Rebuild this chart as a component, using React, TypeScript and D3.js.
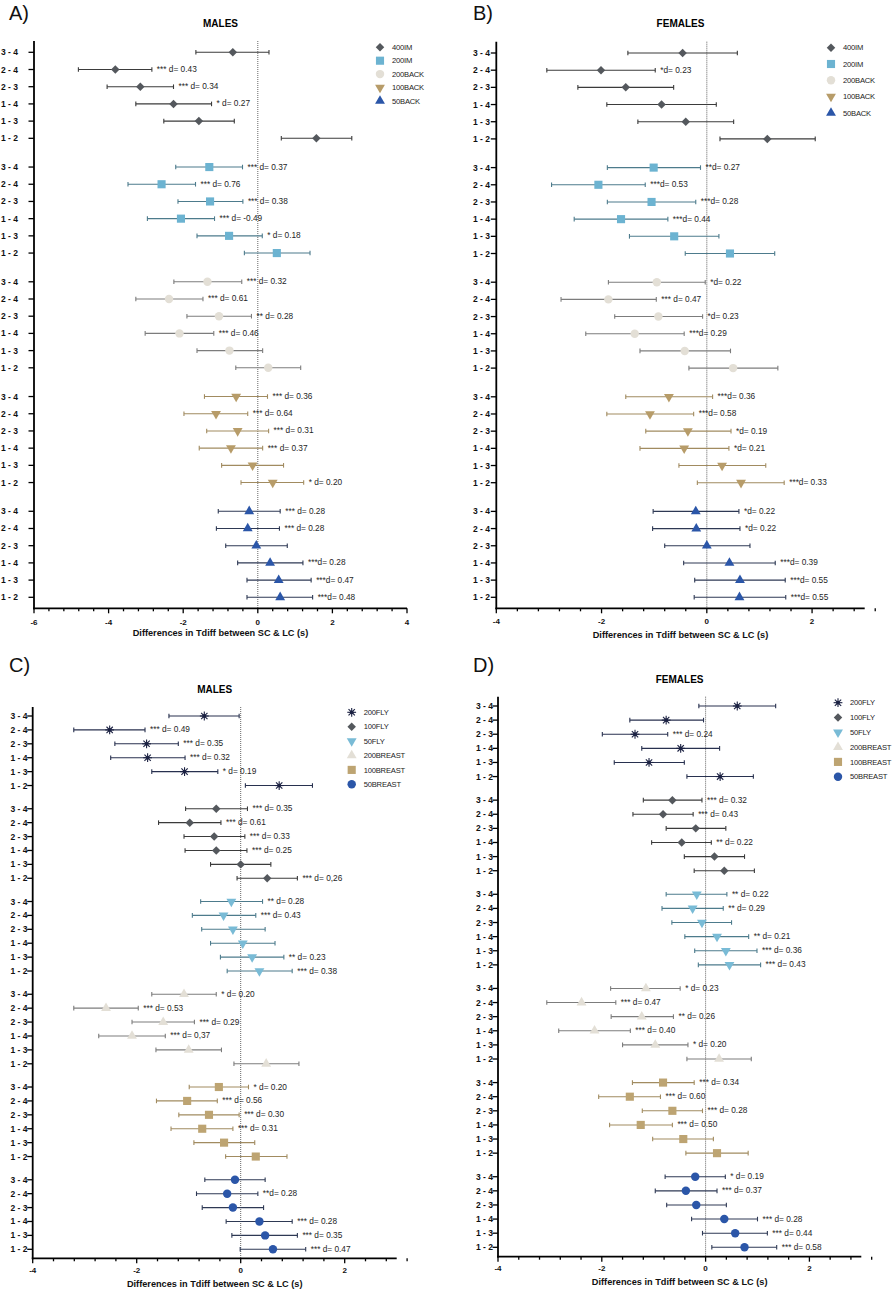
import React from "react";
import * as d3 from "d3";

// [mean difference, lower CI, upper CI, significance / effect size label]
type Row = [number, number, number, string];
type MarkerKind = "diamond" | "square" | "circle" | "triDown" | "triUp" | "asterisk";

const pairs = ["3 - 4", "2 - 4", "2 - 3", "1 - 4", "1 - 3", "1 - 2"];
const xTitle = "Differences in Tdiff between SC & LC (s)";

// A) males, IM + backstroke
const mIM400: Row[] = [
  [-0.67, -1.66, 0.3, ""],
  [-3.82, -4.81, -2.84, "*** d= 0.43"],
  [-3.15, -4.04, -2.26, "*** d= 0.34"],
  [-2.26, -3.27, -1.24, "* d= 0.27"],
  [-1.58, -2.52, -0.63, ""],
  [1.57, 0.63, 2.52, ""],
];
const mIM200: Row[] = [
  [-1.3, -2.2, -0.41, "*** d= 0.37"],
  [-2.58, -3.48, -1.67, "*** d= 0.76"],
  [-1.28, -2.14, -0.4, "*** d= 0.38"],
  [-2.06, -2.96, -1.16, "*** d= -0.49"],
  [-0.77, -1.63, 0.12, "* d= 0.18"],
  [0.51, -0.36, 1.4, ""],
];
const mBACK200: Row[] = [
  [-1.35, -2.25, -0.43, "*** d= 0.32"],
  [-2.38, -3.27, -1.47, "*** d= 0.61"],
  [-1.04, -1.9, -0.17, "** d= 0.28"],
  [-2.1, -3.02, -1.18, "*** d= 0.46"],
  [-0.76, -1.63, 0.13, ""],
  [0.28, -0.59, 1.15, ""],
];
const mBACK100: Row[] = [
  [-0.58, -1.43, 0.26, "*** d= 0.36"],
  [-1.12, -1.98, -0.27, "*** d= 0.64"],
  [-0.54, -1.37, 0.29, "*** d= 0.31"],
  [-0.72, -1.57, 0.13, "*** d= 0.37"],
  [-0.14, -0.97, 0.69, ""],
  [0.4, -0.45, 1.23, "* d= 0.20"],
];
const mBACK50: Row[] = [
  [-0.23, -1.06, 0.6, "*** d= 0.28"],
  [-0.27, -1.11, 0.58, "*** d= 0.28"],
  [-0.04, -0.86, 0.79, ""],
  [0.33, -0.54, 1.21, "***d= 0.28"],
  [0.56, -0.29, 1.43, "***d= 0.47"],
  [0.6, -0.29, 1.47, "***d= 0.48"],
];

// B) females, IM + backstroke
const fIM400: Row[] = [
  [-0.46, -1.5, 0.58, ""],
  [-2.01, -3.04, -0.98, "*d= 0.23"],
  [-1.54, -2.45, -0.63, ""],
  [-0.86, -1.9, 0.18, ""],
  [-0.4, -1.31, 0.51, ""],
  [1.15, 0.25, 2.06, ""],
];
const fIM200: Row[] = [
  [-1.01, -1.89, -0.12, "**d= 0.27"],
  [-2.06, -2.95, -1.17, "***d= 0.53"],
  [-1.05, -1.89, -0.21, "***d= 0.28"],
  [-1.63, -2.52, -0.74, "***d= 0.44"],
  [-0.62, -1.47, 0.23, ""],
  [0.44, -0.41, 1.29, ""],
];
const fBACK200: Row[] = [
  [-0.95, -1.87, -0.03, "*d= 0.22"],
  [-1.87, -2.77, -0.96, "*** d= 0.47"],
  [-0.92, -1.75, -0.08, "*d= 0.23"],
  [-1.37, -2.3, -0.43, "***d= 0.29"],
  [-0.42, -1.27, 0.45, ""],
  [0.5, -0.34, 1.35, ""],
];
const fBACK100: Row[] = [
  [-0.72, -1.54, 0.11, "***d= 0.36"],
  [-1.08, -1.9, -0.25, "***d= 0.58"],
  [-0.36, -1.16, 0.46, "*d= 0.19"],
  [-0.43, -1.27, 0.42, "*d= 0.21"],
  [0.29, -0.53, 1.12, ""],
  [0.65, -0.18, 1.47, "***d= 0.33"],
];
const fBACK50: Row[] = [
  [-0.21, -1.02, 0.61, "*d= 0.22"],
  [-0.2, -1.03, 0.63, "*d= 0.22"],
  [0.0, -0.8, 0.82, ""],
  [0.43, -0.44, 1.3, "***d= 0.39"],
  [0.63, -0.23, 1.49, "***d= 0.55"],
  [0.62, -0.24, 1.5, "***d= 0.55"],
];

// C) males, butterfly + breaststroke
const mFLY200: Row[] = [
  [-0.7, -1.38, -0.03, ""],
  [-2.52, -3.21, -1.84, "*** d= 0.49"],
  [-1.81, -2.42, -1.2, "*** d= 0.35"],
  [-1.79, -2.5, -1.07, "*** d= 0.32"],
  [-1.08, -1.71, -0.44, "* d= 0.19"],
  [0.74, 0.09, 1.38, ""],
];
const mFLY100: Row[] = [
  [-0.47, -1.06, 0.13, "*** d= 0.35"],
  [-0.98, -1.58, -0.38, "*** d= 0.61"],
  [-0.51, -1.09, 0.08, "*** d= 0.33"],
  [-0.47, -1.07, 0.12, "*** d= 0.25"],
  [0.0, -0.58, 0.58, ""],
  [0.51, -0.07, 1.09, "*** d= 0,26"],
];
const mFLY50: Row[] = [
  [-0.18, -0.77, 0.42, "** d= 0.28"],
  [-0.33, -0.93, 0.29, "*** d= 0.43"],
  [-0.15, -0.75, 0.47, ""],
  [0.04, -0.58, 0.66, ""],
  [0.22, -0.39, 0.83, "** d= 0.23"],
  [0.36, -0.26, 0.99, "*** d= 0.38"],
];
const mBREAST200: Row[] = [
  [-1.09, -1.71, -0.47, "* d= 0.20"],
  [-2.59, -3.21, -1.97, "*** d= 0.53"],
  [-1.49, -2.09, -0.89, "*** d= 0.29"],
  [-2.09, -2.73, -1.45, "*** d= 0,37"],
  [-1.0, -1.63, -0.37, ""],
  [0.49, -0.13, 1.12, ""],
];
const mBREAST100: Row[] = [
  [-0.42, -0.99, 0.15, "* d= 0.20"],
  [-1.03, -1.62, -0.45, "*** d= 0.56"],
  [-0.61, -1.19, -0.03, "*** d= 0.30"],
  [-0.74, -1.34, -0.15, "*** d= 0.31"],
  [-0.32, -0.9, 0.27, ""],
  [0.29, -0.29, 0.89, ""],
];
const mBREAST50: Row[] = [
  [-0.11, -0.69, 0.47, ""],
  [-0.26, -0.85, 0.33, "**d= 0.28"],
  [-0.15, -0.74, 0.44, ""],
  [0.36, -0.28, 0.99, "*** d= 0.28"],
  [0.47, -0.17, 1.09, "*** d= 0.35"],
  [0.62, -0.01, 1.25, "*** d= 0.47"],
];

// D) females, butterfly + breaststroke
const fFLY200: Row[] = [
  [0.61, -0.13, 1.35, ""],
  [-0.76, -1.46, -0.04, ""],
  [-1.36, -1.99, -0.73, "*** d= 0.24"],
  [-0.48, -1.23, 0.27, ""],
  [-1.09, -1.76, -0.41, ""],
  [0.28, -0.36, 0.92, ""],
];
const fFLY100: Row[] = [
  [-0.64, -1.2, -0.07, "*** d= 0.32"],
  [-0.82, -1.4, -0.24, "*** d= 0.43"],
  [-0.19, -0.76, 0.39, ""],
  [-0.46, -1.04, 0.11, "** d= 0.22"],
  [0.17, -0.41, 0.75, ""],
  [0.36, -0.22, 0.94, ""],
];
const fFLY50: Row[] = [
  [-0.17, -0.76, 0.41, "** d= 0.22"],
  [-0.25, -0.84, 0.34, "** d= 0.29"],
  [-0.07, -0.65, 0.5, ""],
  [0.22, -0.4, 0.83, "** d= 0.21"],
  [0.39, -0.21, 0.99, "*** d= 0.36"],
  [0.46, -0.14, 1.06, "*** d= 0.43"],
];
const fBREAST200: Row[] = [
  [-1.15, -1.83, -0.49, "* d= 0.23"],
  [-2.39, -3.06, -1.73, "*** d= 0.47"],
  [-1.23, -1.82, -0.62, "** d= 0.26"],
  [-2.14, -2.83, -1.45, "*** d= 0.40"],
  [-0.97, -1.6, -0.34, "* d= 0.20"],
  [0.26, -0.36, 0.88, ""],
];
const fBREAST100: Row[] = [
  [-0.82, -1.41, -0.22, "*** d= 0.34"],
  [-1.46, -2.06, -0.87, "*** d= 0.60"],
  [-0.64, -1.22, -0.06, "*** d= 0.28"],
  [-1.25, -1.85, -0.64, "*** d= 0.50"],
  [-0.43, -1.02, 0.15, ""],
  [0.22, -0.38, 0.82, ""],
];
const fBREAST50: Row[] = [
  [-0.2, -0.78, 0.38, "* d= 0.19"],
  [-0.38, -0.97, 0.22, "*** d= 0.37"],
  [-0.18, -0.75, 0.4, ""],
  [0.36, -0.27, 1.0, "*** d= 0.28"],
  [0.57, -0.06, 1.19, "*** d= 0.44"],
  [0.75, 0.12, 1.37, "*** d= 0.58"],
];

interface Series {
  name: string;
  rows: Row[];
  marker: MarkerKind;
  fill: string;
  bar: string;
}

const DARK = { fill: "#54585d", bar: "#3b3b3b" };
const LBLUE = { fill: "#6cb3d1", bar: "#4d7b8c" };
const SKY = { fill: "#79bbd6", bar: "#4d7b8c" };
const BEIGE = { fill: "#e3dfd6", bar: "#7c7c7c" };
const TAN = { fill: "#b79c69", bar: "#a18b60" };
const SAND = { fill: "#bda472", bar: "#a18b60" };
const BLUE = { fill: "#2b56a8", bar: "#2e3954" };
const NAVY = { fill: "#1b2142", bar: "#28314f" };

const seriesA: Series[] = [
  { name: "400IM", rows: mIM400, marker: "diamond", ...DARK },
  { name: "200IM", rows: mIM200, marker: "square", ...LBLUE },
  { name: "200BACK", rows: mBACK200, marker: "circle", ...BEIGE },
  { name: "100BACK", rows: mBACK100, marker: "triDown", ...TAN },
  { name: "50BACK", rows: mBACK50, marker: "triUp", ...BLUE },
];
const seriesB: Series[] = [
  { name: "400IM", rows: fIM400, marker: "diamond", ...DARK },
  { name: "200IM", rows: fIM200, marker: "square", ...LBLUE },
  { name: "200BACK", rows: fBACK200, marker: "circle", ...BEIGE },
  { name: "100BACK", rows: fBACK100, marker: "triDown", ...TAN },
  { name: "50BACK", rows: fBACK50, marker: "triUp", ...BLUE },
];
const seriesC: Series[] = [
  { name: "200FLY", rows: mFLY200, marker: "asterisk", ...NAVY },
  { name: "100FLY", rows: mFLY100, marker: "diamond", ...DARK },
  { name: "50FLY", rows: mFLY50, marker: "triDown", ...SKY },
  { name: "200BREAST", rows: mBREAST200, marker: "triUp", ...BEIGE },
  { name: "100BREAST", rows: mBREAST100, marker: "square", ...SAND },
  { name: "50BREAST", rows: mBREAST50, marker: "circle", ...BLUE },
];
const seriesD: Series[] = [
  { name: "200FLY", rows: fFLY200, marker: "asterisk", ...NAVY },
  { name: "100FLY", rows: fFLY100, marker: "diamond", ...DARK },
  { name: "50FLY", rows: fFLY50, marker: "triDown", ...SKY },
  { name: "200BREAST", rows: fBREAST200, marker: "triUp", ...BEIGE },
  { name: "100BREAST", rows: fBREAST100, marker: "square", ...SAND },
  { name: "50BREAST", rows: fBREAST50, marker: "circle", ...BLUE },
];

const FONT = "'Liberation Sans', Arial, Helvetica, sans-serif";
const GROUP_SLOTS = 6.67; // 6 rows plus a gap between swim events

const Marker: React.FC<{ kind: MarkerKind; x: number; y: number; fill: string }> = ({
  kind,
  x,
  y,
  fill,
}) => {
  const t = `translate(${x},${y})`;
  if (kind === "asterisk") {
    const r = 4.4;
    const d = r * 0.72;
    return (
      <g transform={t} stroke={fill} strokeWidth={1.1}>
        <line x1={-r} y1={0} x2={r} y2={0} />
        <line x1={0} y1={-r} x2={0} y2={r} />
        <line x1={-d} y1={-d} x2={d} y2={d} />
        <line x1={-d} y1={d} x2={d} y2={-d} />
        <circle r={1.9} fill={fill} stroke="none" />
      </g>
    );
  }
  let path = "";
  let rot = 0;
  if (kind === "diamond") {
    path = d3.symbol(d3.symbolSquare, 36)() as string;
    rot = 45;
  } else if (kind === "square") {
    path = d3.symbol(d3.symbolSquare, 66)() as string;
  } else if (kind === "circle") {
    path = d3.symbol(d3.symbolCircle, 56)() as string;
  } else if (kind === "triUp") {
    path = d3.symbol(d3.symbolTriangle, 42)() as string;
  } else {
    path = d3.symbol(d3.symbolTriangle, 42)() as string;
    rot = 180;
  }
  return <path d={path} transform={`${t} rotate(${rot})`} fill={fill} />;
};

interface PanelProps {
  series: Series[];
  domain: [number, number];
  xRange: [number, number];
  yTop: number;
  yBottom: number;
  firstY: number;
  lastY: number;
  title: string;
  titleY: number;
  letter: string;
  letterX: number;
  letterY: number;
  labelRight: number;
  tickLabelY: number;
  xLabelY: number;
  legendX: number;
  legendY: number;
  legendDy: number;
}

const Panel: React.FC<PanelProps> = (p) => {
  const x = d3.scaleLinear().domain(p.domain).range(p.xRange);
  const n = p.series.length;
  const y = d3
    .scaleLinear()
    .domain([0, (n - 1) * GROUP_SLOTS + 5])
    .range([p.firstY, p.lastY]);
  const x0 = p.xRange[0];
  const mid = (p.xRange[0] + p.xRange[1]) / 2;
  const steps = Math.round((p.domain[1] - p.domain[0]) / 0.4);
  const xticks = d3.range(0, steps + 1).map((i) => +(p.domain[0] + i * 0.4).toFixed(2));
  const isMajor = (v: number) => Math.abs(v / 2 - Math.round(v / 2)) < 1e-6;

  return (
    <g fontFamily={FONT}>
      <text x={p.letterX} y={p.letterY} fontSize={20} fill="#111">
        {p.letter}
      </text>
      <text x={mid} y={p.titleY} fontSize={10} fontWeight="bold" textAnchor="middle">
        {p.title}
      </text>

      {/* zero line */}
      <line
        x1={x(0)}
        x2={x(0)}
        y1={p.yTop}
        y2={p.yBottom}
        stroke="#555"
        strokeWidth={0.9}
        strokeDasharray="1,1"
      />

      {/* error bars, markers and annotations */}
      {p.series.map((s, g) => (
        <g key={s.name}>
          {s.rows.map((r, i) => {
            const yy = y(g * GROUP_SLOTS + i);
            const [m, lo, hi, lab] = r;
            return (
              <g key={i}>
                <line x1={x(lo)} x2={x(hi)} y1={yy} y2={yy} stroke={s.bar} strokeWidth={1.1} />
                <line x1={x(lo)} x2={x(lo)} y1={yy - 2.3} y2={yy + 2.3} stroke={s.bar} strokeWidth={1.1} />
                <line x1={x(hi)} x2={x(hi)} y1={yy - 2.3} y2={yy + 2.3} stroke={s.bar} strokeWidth={1.1} />
                <Marker kind={s.marker} x={x(m)} y={yy} fill={s.fill} />
                {lab && (
                  <text x={x(hi) + 5} y={yy + 2.5} fontSize={8.3} fill="#1e1e1e">
                    {lab}
                  </text>
                )}
              </g>
            );
          })}
        </g>
      ))}

      {/* y axis */}
      <line x1={x0} x2={x0} y1={p.yTop} y2={p.yBottom + 0.9} stroke="#000" strokeWidth={1.8} />
      {p.series.map((s, g) =>
        pairs.map((lab, i) => {
          const yy = y(g * GROUP_SLOTS + i);
          return (
            <g key={`${s.name}-${i}`}>
              <line x1={x0 - 5.5} x2={x0} y1={yy} y2={yy} stroke="#000" strokeWidth={1.3} />
              <text
                x={p.labelRight}
                y={yy + 3}
                fontSize={8.5}
                fontWeight="bold"
                textAnchor="end"
                fill="#111"
              >
                {lab}
              </text>
            </g>
          );
        })
      )}

      {/* x axis */}
      <line x1={x0 - 0.9} x2={p.xRange[1]} y1={p.yBottom} y2={p.yBottom} stroke="#000" strokeWidth={1.8} />
      {xticks.map((v) => (
        <g key={v}>
          <line
            x1={x(v)}
            x2={x(v)}
            y1={p.yBottom}
            y2={p.yBottom + (isMajor(v) ? 5 : 3)}
            stroke="#000"
            strokeWidth={1.3}
          />
          {isMajor(v) && (
            <text x={x(v)} y={p.tickLabelY} fontSize={8} fontWeight="bold" textAnchor="middle" fill="#111">
              {String(v)}
            </text>
          )}
        </g>
      ))}
      <text x={mid} y={p.xLabelY} fontSize={9.2} fontWeight="bold" textAnchor="middle" fill="#111">
        {xTitle}
      </text>

      {/* legend */}
      {p.series.map((s, i) => {
        const ly = p.legendY + i * p.legendDy;
        return (
          <g key={`leg-${s.name}`}>
            <Marker kind={s.marker} x={p.legendX} y={ly} fill={s.fill} />
            <text x={p.legendX + 12} y={ly + 2.7} fontSize={7.6} fill="#222" letterSpacing={-0.2}>
              {s.name}
            </text>
          </g>
        );
      })}
    </g>
  );
};

export default function App() {
  return (
    <svg
      width={895}
      height={1291}
      style={{ position: "absolute", left: 0, top: 0, background: "#fff" }}
    >
      <rect width={895} height={1291} fill="#fff" />
      <Panel
        series={seriesA}
        domain={[-6, 4]}
        xRange={[34, 407]}
        yTop={41}
        yBottom={608.3}
        firstY={52.3}
        lastY={597.3}
        title="MALES"
        titleY={27}
        letter="A)"
        letterX={9}
        letterY={20}
        labelRight={18}
        tickLabelY={624.5}
        xLabelY={635.5}
        legendX={380}
        legendY={47.3}
        legendDy={13.4}
      />
      <Panel
        series={seriesB}
        domain={[-4, 3]}
        xRange={[496.3, 864.7]}
        yTop={41.7}
        yBottom={608.3}
        firstY={53}
        lastY={597.3}
        title="FEMALES"
        titleY={27}
        letter="B)"
        letterX={473}
        letterY={20}
        labelRight={490}
        tickLabelY={623.5}
        xLabelY={638}
        legendX={831}
        legendY={47.7}
        legendDy={16.3}
      />
      <Panel
        series={seriesC}
        domain={[-4, 3]}
        xRange={[32.7, 396.7]}
        yTop={707}
        yBottom={1258.3}
        firstY={716}
        lastY={1249.3}
        title="MALES"
        titleY={693}
        letter="C)"
        letterX={9}
        letterY={671.5}
        labelRight={27.5}
        tickLabelY={1273}
        xLabelY={1286.5}
        legendX={351.7}
        legendY={712.3}
        legendDy={14.4}
      />
      <Panel
        series={seriesD}
        domain={[-4, 3]}
        xRange={[498, 861.3]}
        yTop={696.7}
        yBottom={1256.7}
        firstY={706}
        lastY={1247.3}
        title="FEMALES"
        titleY={683}
        letter="D)"
        letterX={473}
        letterY={671.5}
        labelRight={493}
        tickLabelY={1271}
        xLabelY={1285}
        legendX={838}
        legendY={702.7}
        legendDy={14.8}
      />
    </svg>
  );
}
